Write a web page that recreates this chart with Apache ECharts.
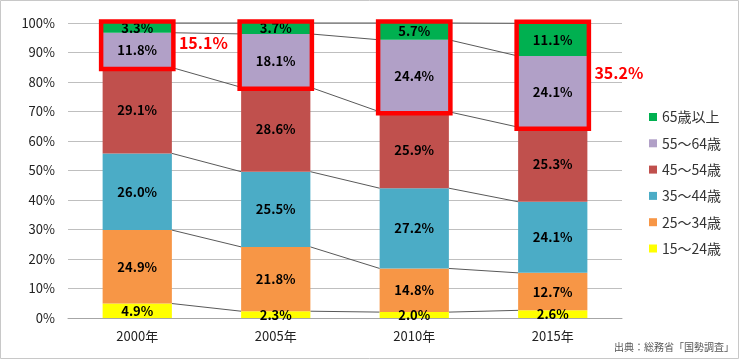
<!DOCTYPE html>
<html><head><meta charset="utf-8">
<script src="https://cdn.jsdelivr.net/npm/echarts@6/dist/echarts.min.js"></script>
<style>html,body{margin:0;padding:0;background:#fff}#c{width:740px;height:360px}</style>
</head><body><div id="c"></div>
<script>
const categories = ['2000年','2005年','2010年','2015年'];
const seriesNames = ['15～24歳','25～34歳','35～44歳','45～54歳','55～64歳','65歳以上'];
const age15_24 = [4.9, 2.3, 2.0, 2.6];
const age25_34 = [24.9, 21.8, 14.8, 12.7];
const age35_44 = [26.0, 25.5, 27.2, 24.1];
const age45_54 = [29.1, 28.6, 25.9, 25.3];
const age55_64 = [11.8, 18.1, 24.4, 24.1];
const age65up  = [3.3, 3.7, 5.7, 11.1];
const highlightCats = [0, 1, 2, 3];
const sumLabelCats = [0, 3];
const yTicks = [0,10,20,30,40,50,60,70,80,90,100];

const allSeries = [age15_24, age25_34, age35_44, age45_54, age55_64, age65up];
const colors = ['#FFFF00','#F79646','#4BACC6','#C0504D','#B1A0C7','#00B050'];
const FONT = "'Noto Sans CJK JP','Noto Sans',sans-serif";

function cum(ci, k){ let s=0; for(let i=0;i<k;i++) s+=allSeries[i][ci]; return s; }

const barSeries = allSeries.map((d,i)=>({
  name: seriesNames[i], type:'bar', stack:'a', barWidth:'50%', data:d,
  itemStyle:{color:colors[i]},
  label:{show:true, position:'inside', formatter:p=>p.value.toFixed(1)+'%', color:'#000', fontWeight:'bold', fontSize:13, fontFamily:FONT},
  z:2
}));

const linesSeries = {
  type:'custom', name:'lines', z:1, silent:true,
  data: categories.slice(0,-1).map((c,i)=>[i]),
  renderItem:(params, api)=>{
    const i = api.value(0);
    const bw = api.size([1,0])[0]*0.5;
    const ch = [];
    for(let k=1;k<=allSeries.length;k++){
      const a = api.coord([i, cum(i,k)]);
      const b = api.coord([i+1, cum(i+1,k)]);
      ch.push({type:'line', shape:{x1:a[0]+bw/2, y1:a[1], x2:b[0]-bw/2, y2:b[1]}, style:{stroke:'#595959', lineWidth:1}});
    }
    return {type:'group', children:ch};
  }
};

const boxSeries = {
  type:'custom', name:'boxes', z:5, silent:true,
  data: highlightCats.map(i=>[i]),
  renderItem:(params, api)=>{
    const i = api.value(0);
    const bw = api.size([1,0])[0]*0.5;
    const top = api.coord([i, cum(i,6)]);
    const bot = api.coord([i, cum(i,4)]);
    const pad = 1.5;
    const ch = [{type:'rect', shape:{x:top[0]-bw/2-pad, y:top[1]-pad, width:bw+2*pad, height:bot[1]-top[1]+2*pad},
      style:{fill:'none', stroke:'#FF0000', lineWidth:4.5}}];
    if (sumLabelCats.indexOf(i) >= 0) {
      const s = allSeries[4][i] + allSeries[5][i];
      ch.push({type:'text', x:top[0]+bw/2+7, y:(top[1]+bot[1])/2 - 2,
        style:{text:s.toFixed(1)+'%', fill:'#FF0000', font:"bold 16px "+FONT, textVerticalAlign:'middle', textAlign:'left'}});
    }
    return {type:'group', children:ch};
  }
};

const chart = echarts.init(document.getElementById('c'));
chart.setOption({
  animation:false,
  backgroundColor:'#fff',
  grid:{left:68, right:118, top:23, bottom:42},
  legend:{
    data: seriesNames.slice().reverse(), orient:'vertical', left:644, top:105,
    itemWidth:8, itemHeight:8, itemGap:12.3, icon:'rect',
    textStyle:{fontSize:14, color:'#333', fontFamily:FONT}
  },
  xAxis:{type:'category', data:categories,
    axisLine:{lineStyle:{color:'#a6a6a6'}}, axisTick:{show:false},
    axisLabel:{fontSize:13, color:'#222', margin:12, fontFamily:FONT}},
  yAxis:{type:'value', min:yTicks[0], max:yTicks[yTicks.length-1], interval:10,
    axisLine:{show:false}, axisTick:{show:false},
    splitLine:{lineStyle:{color:'#bfbfbf'}},
    axisLabel:{formatter:'{value}%', fontSize:13, color:'#222', margin:13, fontFamily:FONT}},
  graphic:[
    {type:'rect', shape:{x:0.5,y:0.5,width:738,height:358}, style:{fill:'none', stroke:'#c8c8c8', lineWidth:1}, silent:true},
    {type:'text', right:6, bottom:8, style:{text:'出典：総務省「国勢調査」', fill:'#555', font:"10px "+FONT}}
  ],
  series:[...barSeries, linesSeries, boxSeries]
});
</script></body></html>
